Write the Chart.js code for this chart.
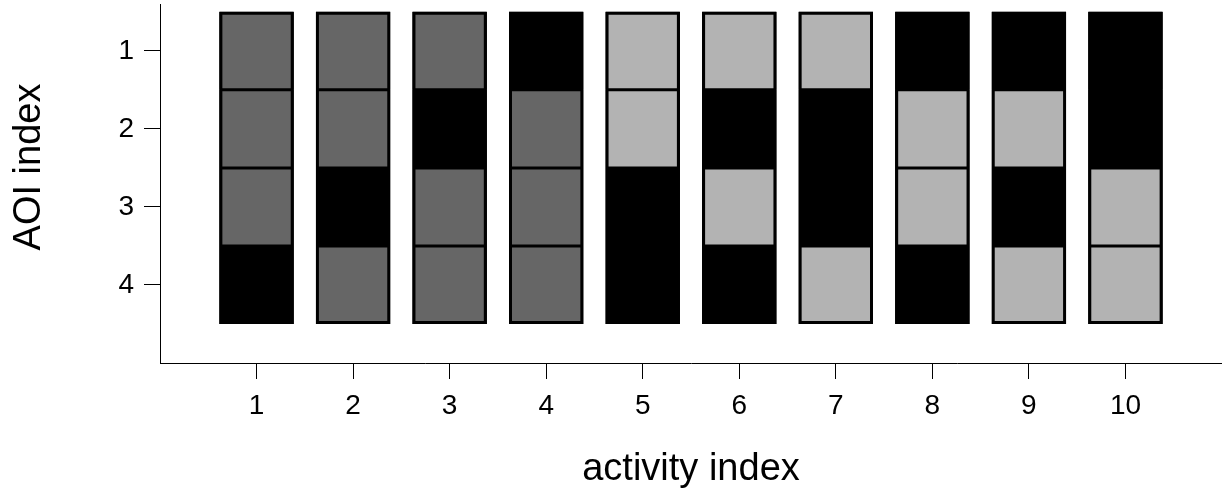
<!DOCTYPE html>
<html>
<head>
<meta charset="utf-8">
<script src="https://cdn.jsdelivr.net/npm/chart.js@4.4.1/dist/chart.umd.min.js"></script>
<style>
  html, body { margin: 0; padding: 0; background: #fff; }
  #wrap { width: 1222px; height: 491px; position: relative; }
</style>
</head>
<body>
<div id="wrap"><canvas id="chart"></canvas></div>
<script>
// activities along x, AOIs along y
const activityIndex = [1, 2, 3, 4, 5, 6, 7, 8, 9, 10];
const aoiIndex = [1, 2, 3, 4];

// state of each AOI per activity: 1 = grey, 2 = black, 3 = light grey
const aoi1 = [1, 1, 1, 2, 3, 3, 3, 2, 2, 2];
const aoi2 = [1, 1, 2, 1, 3, 2, 2, 3, 3, 2];
const aoi3 = [1, 2, 1, 1, 2, 3, 2, 3, 2, 3];
const aoi4 = [2, 1, 1, 1, 2, 2, 3, 2, 3, 3];
const aoiStates = [aoi1, aoi2, aoi3, aoi4];

const stateColors = { 1: '#666666', 2: '#000000', 3: '#b3b3b3' };

Chart.defaults.font.family = '"Liberation Sans", Arial, sans-serif';
Chart.defaults.color = '#000';

const BAR_PCT = 0.77;
const colRange = [aoiIndex[0] - 0.5, aoiIndex[aoiIndex.length - 1] + 0.5];

// one dataset per AOI row, each cell is a floating bar [row-0.5, row+0.5]
const cellSets = aoiIndex.map((row, r) => ({
  label: 'AOI ' + row,
  order: 1,
  data: activityIndex.map(a => ({ x: a, y: [row - 0.5, row + 0.5] })),
  backgroundColor: aoiStates[r].map(s => stateColors[s]),
  borderColor: '#000',
  borderWidth: 1.5,
  borderSkipped: false,
  barPercentage: BAR_PCT,
  categoryPercentage: 1
}));

// black frame round each activity column (drawn on top)
const frameSet = {
  label: 'frame',
  order: 0,
  data: activityIndex.map(a => ({ x: a, y: colRange })),
  backgroundColor: 'rgba(0,0,0,0)',
  borderColor: '#000',
  borderWidth: 3,
  borderSkipped: false,
  barPercentage: BAR_PCT,
  categoryPercentage: 1
};

// black backing under each column so cell seams stay black
const baseSet = {
  label: 'base',
  order: 2,
  data: activityIndex.map(a => ({ x: a, y: colRange })),
  backgroundColor: '#000',
  borderWidth: 0,
  barPercentage: BAR_PCT,
  categoryPercentage: 1
};

const axisTitles = {
  id: 'axisTitles',
  afterDraw(chart) {
    const { ctx, chartArea } = chart;
    ctx.save();
    ctx.fillStyle = '#000';
    ctx.font = '38px "Liberation Sans", Arial, sans-serif';
    ctx.textAlign = 'center';
    ctx.textBaseline = 'alphabetic';
    ctx.fillText('activity index', (chartArea.left + chartArea.right) / 2, 480);
    ctx.translate(40, 167);
    ctx.rotate(-Math.PI / 2);
    ctx.fillText('AOI index', 0, 0);
    ctx.restore();
  }
};

const ctx = document.getElementById('chart');
new Chart(ctx, {
  type: 'bar',
  data: { datasets: [frameSet].concat(cellSets, [baseSet]) },
  options: {
    responsive: true,
    maintainAspectRatio: false,
    animation: false,
    grouped: false,
    layout: { padding: { top: 4, right: 0, bottom: 0, left: 0 } },
    plugins: {
      legend: { display: false },
      tooltip: { enabled: false }
    },
    scales: {
      x: {
        type: 'linear',
        min: 0,
        max: 11,
        offset: false,
        afterBuildTicks: s => { s.ticks = activityIndex.map(v => ({ value: v })); },
        afterFit: s => { s.height = 128; s.paddingLeft = 0; s.paddingRight = 0; },
        grid: { offset: false, drawOnChartArea: false, drawTicks: true, tickLength: 16, color: '#000', lineWidth: 1 },
        border: { display: true, color: '#000', width: 1 },
        ticks: { font: { size: 28 }, color: '#000', padding: 10, maxRotation: 0 }
      },
      y: {
        type: 'linear',
        reverse: true,
        min: 0.4,
        max: 5,
        afterBuildTicks: s => { s.ticks = aoiIndex.map(v => ({ value: v })); },
        afterFit: s => { s.width = 160; s.paddingTop = 0; s.paddingBottom = 0; },
        grid: { drawOnChartArea: false, drawTicks: true, tickLength: 16, color: '#000', lineWidth: 1 },
        border: { display: true, color: '#000', width: 1 },
        ticks: { font: { size: 28 }, color: '#000', padding: 10 }
      }
    }
  },
  plugins: [axisTitles]
});
</script>
</body>
</html>
